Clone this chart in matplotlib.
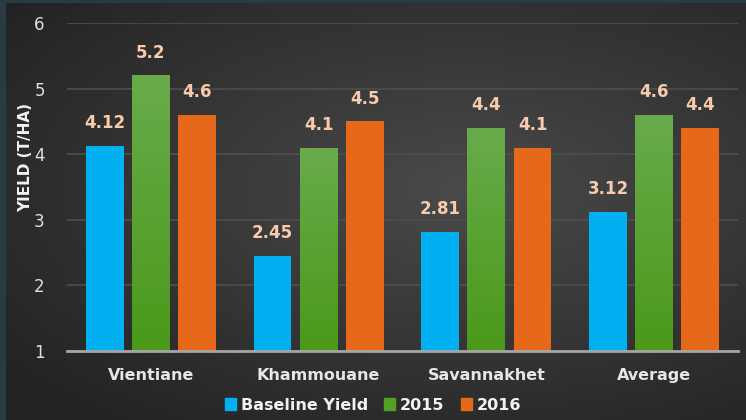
import matplotlib
matplotlib.use("Agg")
import matplotlib.pyplot as plt
import numpy as np
from matplotlib.patches import Patch

categories = ["Vientiane", "Khammouane", "Savannakhet", "Average"]
baseline = [4.12, 2.45, 2.81, 3.12]
y2015 = [5.2, 4.1, 4.4, 4.6]
y2016 = [4.6, 4.5, 4.1, 4.4]
labels_base = ["4.12", "2.45", "2.81", "3.12"]
labels_2015 = ["5.2", "4.1", "4.4", "4.6"]
labels_2016 = ["4.6", "4.5", "4.1", "4.4"]
series_names = ["Baseline Yield", "2015", "2016"]
yticks = [1, 2, 3, 4, 5, 6]

W, H = 746, 420
fig = plt.figure(figsize=(W / 100, H / 100), dpi=100, facecolor="#2a3a42")

# background gradient panel
bg = fig.add_axes([6 / W, 0, 1 - 6 / W, 1 - 3 / H])
bg.set_axis_off()
yy, xx = np.mgrid[0:1:200j, 0:1:300j]
d = np.sqrt(((xx - 0.62) / 1.0) ** 2 + ((yy - 0.55) / 0.9) ** 2)
val = np.clip(1 - d / 0.8, 0, 1)
c0 = np.array([0x22, 0x22, 0x22]) / 255
c1 = np.array([0x4a, 0x4a, 0x4a]) / 255
img = c0[None, None, :] + (c1 - c0)[None, None, :] * val[:, :, None]
bg.imshow(img, aspect="auto", extent=[0, 1, 0, 1], origin="lower")
bg.set_xlim(0, 1)
bg.set_ylim(0, 1)

ax = fig.add_axes([67 / W, 1 - 351 / H, (738 - 67) / W, (351 - 23) / H])
ax.patch.set_alpha(0)

x = np.arange(len(categories))
bw = 0.226
off = 0.275
blue = "#00B0F0"
orange = "#E6681A"
peach = "#F8CBAD"

b1 = ax.bar(x - off, [v - 1 for v in baseline], bw, bottom=1, color=blue, zorder=3)
b2 = ax.bar(x, [v - 1 for v in y2015], bw, bottom=1, color="#58a22a", zorder=3)
b3 = ax.bar(x + off, [v - 1 for v in y2016], bw, bottom=1, color=orange, zorder=3)

# gradient for green bars
grad = np.linspace(0, 1, 100)[:, None]
top = np.array([0x69, 0xab, 0x4b]) / 255
bot = np.array([0x4a, 0x99, 0x1a]) / 255
gimg = bot[None, None, :] + (top - bot)[None, None, :] * grad[:, :, None]
for rect in b2:
    x0, y0 = rect.get_x(), rect.get_y()
    w, h = rect.get_width(), rect.get_height()
    im = ax.imshow(np.repeat(gimg, 2, axis=1), extent=[x0, x0 + w, y0, y0 + h],
                   origin="lower", aspect="auto", zorder=4)
    im.set_clip_path(rect)

for bars, labs in [(b1, labels_base), (b2, labels_2015), (b3, labels_2016)]:
    for rect, lab in zip(bars, labs):
        ax.annotate(lab, (rect.get_x() + rect.get_width() / 2, rect.get_y() + rect.get_height()),
                    xytext=(0, 10), textcoords="offset points", ha="center", va="bottom",
                    color=peach, fontsize=12, fontweight="bold", zorder=5)

ax.set_xlim(-0.5, 3.5)
ax.set_ylim(1, 6)
ax.set_yticks(yticks)
ax.set_yticklabels([str(t) for t in yticks], color="#e0e0e0", fontsize=12)
ax.set_xticks(x)
ax.set_xticklabels(categories, color="#e6e6e6", fontsize=11.5, fontweight="bold")
ax.tick_params(axis="both", length=0)
ax.tick_params(axis="y", pad=16)
ax.tick_params(axis="x", pad=12)
ax.grid(axis="y", color="#4e4e4e", linewidth=1.2, zorder=0)
for s in ["top", "right", "left"]:
    ax.spines[s].set_visible(False)
ax.spines["bottom"].set_color("#a6a6a6")
ax.spines["bottom"].set_linewidth(2)
ax.spines["bottom"].set_zorder(6)

fig.text(26 / W, 1 - 158 / H, "YIELD (T/HA)", rotation=90, ha="center", va="center",
         color="#f2f2f2", fontsize=11, fontweight="bold")

handles = [Patch(color=blue), Patch(color="#54a024"), Patch(color=orange)]
leg = fig.legend(handles, series_names, loc="center", bbox_to_anchor=(0.5, 1 - 405 / H),
                 ncol=3, frameon=False, fontsize=11.5, handlelength=0.7, handleheight=0.7,
                 handletextpad=0.3, columnspacing=1.0)
for t in leg.get_texts():
    t.set_color("#f2f2f2")
    t.set_fontweight("bold")

fig.savefig("out.png", dpi=100, facecolor=fig.get_facecolor())
